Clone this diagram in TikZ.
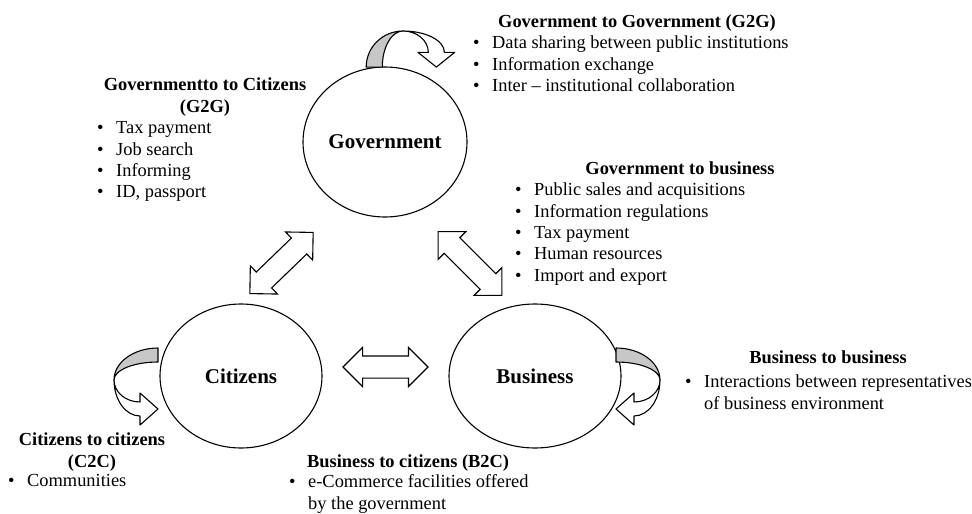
\documentclass[tikz,border=0pt]{standalone}
\usepackage{fontspec}
\setmainfont{Liberation Serif}
\usetikzlibrary{shapes.geometric, shapes.arrows}

\newcommand{\itm}[1]{\strut\makebox[19pt][l]{\textbullet}#1}

% U-turn block arrow: grey twisted half, then white half with the head
\newcommand{\turnarrow}[1]{%
  \begin{scope}[#1]
    \filldraw[turnback] (0,0) arc[start angle=180, end angle=90, x radius=44, y radius=32]
      -- (44,18) arc[start angle=90, end angle=180, x radius=44, y radius=18] -- cycle;
    \filldraw[turnfront] (0,0) arc[start angle=180, end angle=270, x radius=26, y radius=36]
      -- (26,-45) -- (44,-29) -- (26,-13) -- (26,-22)
      arc[start angle=270, end angle=180, x radius=26, y radius=22] -- cycle;
  \end{scope}}

\begin{document}
\begin{tikzpicture}[
  x=1pt,
  y=1pt,
  font=\fontsize{18.4}{21.3}\selectfont,
  actor/.style={draw, ellipse, line width=1.1pt, inner sep=0pt,
    font=\fontsize{21}{24}\selectfont\bfseries},
  dblarrow/.style={double arrow, draw, fill=white, line width=1.1pt,
    inner xsep=0pt, inner ysep=10.5pt, double arrow head extend=8.5pt},
  turnback/.style={fill=black!22, draw, line width=1.1pt, line join=round},
  turnfront/.style={fill=white, draw, line width=1.1pt, line join=round},
  title/.style={inner sep=0pt, align=center, font=\fontsize{18.4}{21.3}\selectfont\bfseries},
  list/.style={inner sep=0pt, align=left, anchor=north west}
]
  \useasboundingbox (0,0) rectangle (972,-514);

  % The three actors.
  \node[actor, minimum width=164, minimum height=150] at (385,-142) (gov) {Government};
  \node[actor, minimum width=162, minimum height=144] at (241,-376) (cit) {Citizens};
  \node[actor, minimum width=172, minimum height=144] at (535,-376) (bus) {Business};

  % Two-way exchanges between the actors.
  \node[dblarrow, minimum height=88, rotate=44]  at (281.5,-263) (govcit) {};
  \node[dblarrow, minimum height=90, rotate=-45] at (470,-263.5) (govbus) {};
  \node[dblarrow, minimum height=85]             at (385.5,-367) (citbus) {};

  % Exchanges within one actor.
  \turnarrow{shift={(403,-31)}, rotate=-90, xscale=0.82, yscale=-1.15}
  \turnarrow{shift={(114,-380)}}
  \turnarrow{shift={(660,-380)}, xscale=-1}

  % Government to government.
  \node[title, anchor=north west] at (498,-12.8) (g2gtitle) {\strut Government to Government (G2G)};
  \node[list] at (473,-33.8) (g2glist) {\itm{Data sharing between public institutions}\\
    \itm{Information exchange}\\\itm{Inter – institutional collaboration}};

  % Government to citizens.
  \node[title, anchor=north] at (205,-75.8) (g2ctitle) {\strut Governmentto to Citizens\\\strut(G2G)};
  \node[list] at (97,-118.8) (g2clist) {\itm{Tax payment}\\\itm{Job search}\\
    \itm{Informing}\\\itm{ID, passport}};

  % Government to business.
  \node[title, anchor=north] at (680,-159.8) (g2btitle) {\strut Government to business};
  \node[list] at (515,-180.8) (g2blist) {\itm{Public sales and acquisitions}\\
    \itm{Information regulations}\\\itm{Tax payment}\\\itm{Human resources}\\
    \itm{Import and export}};

  % Business to business.
  \node[title, anchor=north] at (828,-348.8) (b2btitle) {\strut Business to business};
  \node[list] at (685,-372.8) (b2blist) {\itm{Interactions between representatives}\\
    \strut\hspace{19pt}of business environment};

  % Citizens to citizens.
  \node[title, anchor=north] at (92,-430.8) (c2ctitle) {\strut Citizens to citizens\\\strut(C2C)};
  \node[list] at (8,-471.8) (c2clist) {\itm{Communities}};

  % Business to citizens.
  \node[title, anchor=north west] at (307,-452.8) (b2ctitle) {\strut Business to citizens (B2C)};
  \node[list] at (289,-472.8) (b2clist) {\itm{e-Commerce facilities offered}\\
    \strut\hspace{19pt}by the government};

\end{tikzpicture}
\end{document}
